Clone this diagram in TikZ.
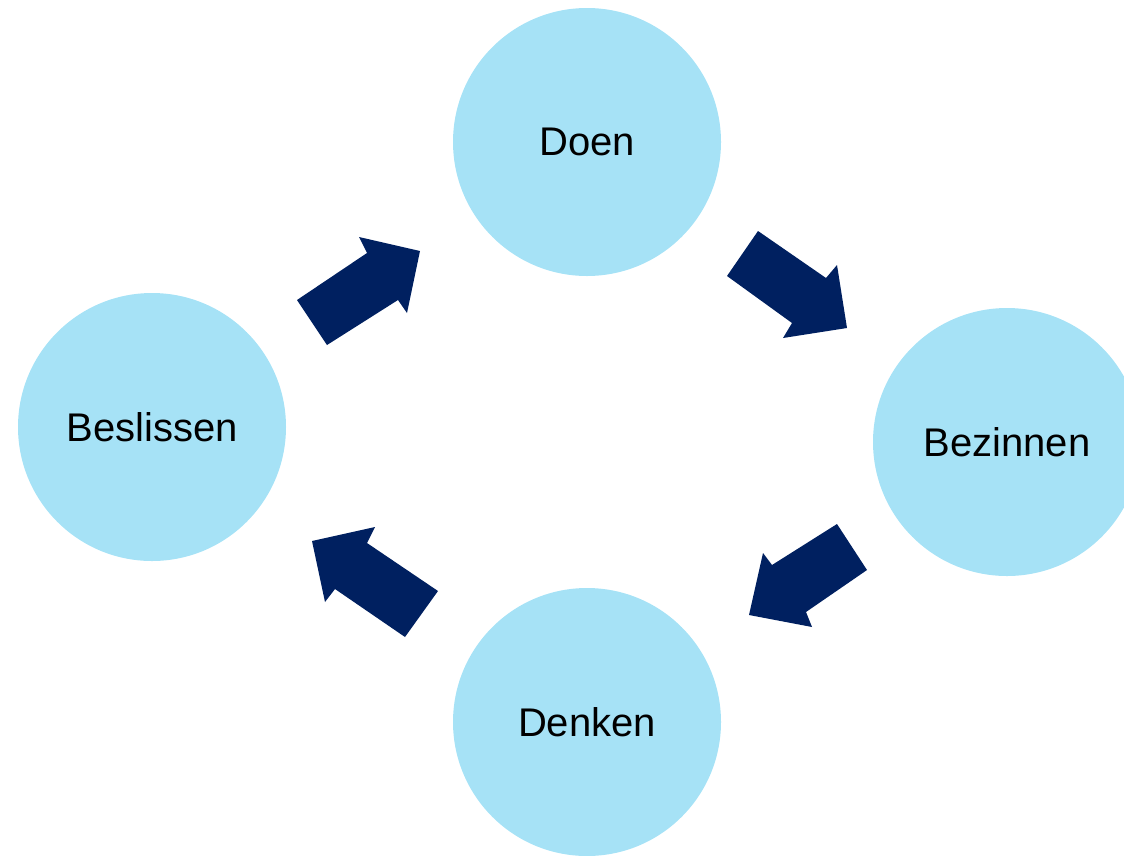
\documentclass[tikz,border=0pt]{standalone}
\usepackage{fontspec}
\setmainfont{Liberation Sans}
\definecolor{circ}{RGB}{166,226,246}
\definecolor{navy}{RGB}{0,32,96}
\tikzset{
  stage/.style={circle, fill=circ, minimum size=268pt, inner sep=0pt, font=\fontsize{40}{48}\selectfont, text=black},
  blockarrow/.style={fill=navy, draw=none}
}
\begin{document}
\begin{tikzpicture}[x=1pt,y=-1pt]
\useasboundingbox (0,0) rectangle (1124,855);
\clip (0,0) rectangle (1124,855);
\node[stage] (doen) at (587,142) {Doen};
\node[stage] (bez) at (1007,442) {Bezinnen};
\node[stage] (denk) at (587,722) {Denken};
\node[stage] (besl) at (152,427) {Beslissen};
% arrow Beslissen -> Doen
\fill[blockarrow] (297,300) -- (367,253) -- (359,237) -- (420,251) -- (407,313) -- (398,300) -- (327,345) -- cycle;
% arrow Doen -> Bezinnen
\fill[blockarrow] (758,231) -- (826,278) -- (837,265) -- (847,328) -- (783,338) -- (792,323) -- (727,276) -- cycle;
% arrow Bezinnen -> Denken
\fill[blockarrow] (837,524) -- (867,570) -- (806,612) -- (812,627) -- (749,615) -- (763,553) -- (772,565) -- cycle;
% arrow Denken -> Beslissen
\fill[blockarrow] (438,591) -- (405,637) -- (335,589) -- (325,602) -- (312,541) -- (375,527) -- (367,543) -- cycle;
\end{tikzpicture}
\end{document}
